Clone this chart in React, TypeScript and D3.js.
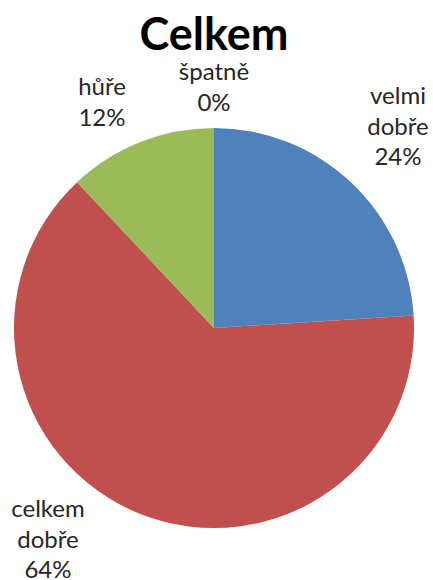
import React from "react";
import * as d3 from "d3";

const categories = ["velmi dobře", "celkem dobře", "hůře", "špatně"];
const values = [24, 64, 12, 0];
const percentLabels = ["24%", "64%", "12%", "0%"];
const colors = ["#4F81BD", "#C0504D", "#9BBB59", "#8064A2"];

// label anchor positions (layout, in px)
const labelLayout = [
  { x: 398, y: 96, lines: ["velmi", "dobře"] },
  { x: 48, y: 509, lines: ["celkem", "dobře"] },
  { x: 102, y: 87, lines: ["hůře"] },
  { x: 214, y: 72, lines: ["špatně"] },
];

const W = 433;
const H = 580;
const cx = 214;
const cy = 328;
const R = 200;
const FONT = "Lato, 'Open Sans', sans-serif";

export default function App() {
  const pie = d3.pie<number>().sort(null).value((d) => d);
  const arcs = pie(values);
  const arcGen = d3.arc<d3.PieArcDatum<number>>().innerRadius(0).outerRadius(R);
  return (
    <svg
      width={W}
      height={H}
      style={{ position: "absolute", left: 0, top: 0, background: "#fff" }}
    >
      <text
        x={214}
        y={50}
        textAnchor="middle"
        fontFamily={FONT}
        fontWeight="bold"
        fontSize={45}
        fill="#000"
      >
        Celkem
      </text>
      <g transform={`translate(${cx},${cy})`}>
        {arcs.map((a, i) =>
          a.endAngle - a.startAngle > 0 ? (
            <path key={i} d={arcGen(a) || ""} fill={colors[i]} />
          ) : null
        )}
      </g>
      {labelLayout.map((l, i) => {
        const lines = [...l.lines, percentLabels[i]];
        return (
          <text
            key={categories[i]}
            textAnchor="middle"
            fontFamily={FONT}
            fontSize={24}
            fill="#262626"
          >
            {lines.map((t, j) => (
              <tspan key={j} x={l.x} y={l.y + j * 30.5} dy="0.35em">
                {t}
              </tspan>
            ))}
          </text>
        );
      })}
    </svg>
  );
}
